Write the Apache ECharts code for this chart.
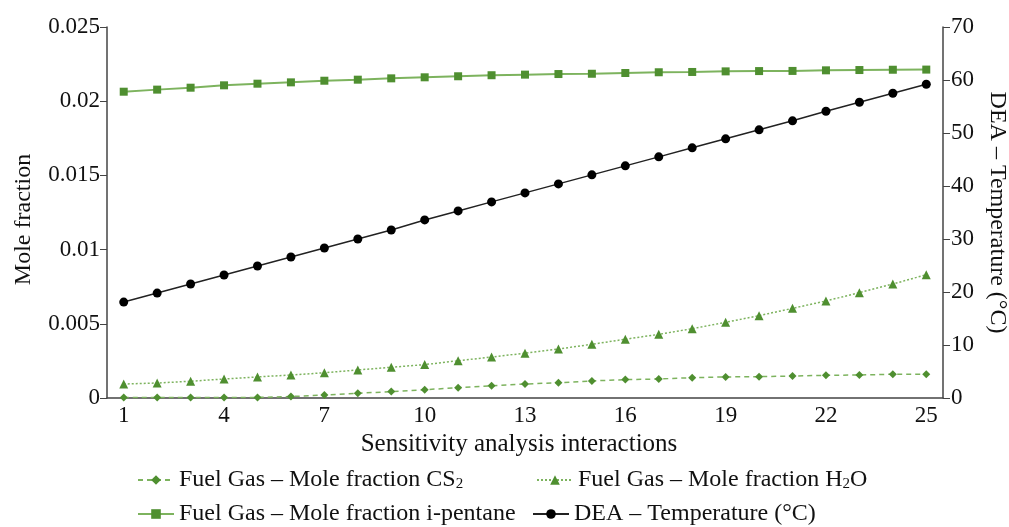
<!DOCTYPE html>
<html><head><meta charset="utf-8">
<script src="https://cdn.jsdelivr.net/npm/echarts@6/dist/echarts.min.js"></script>
<style>html,body{margin:0;padding:0;background:#fff}#c{width:1009px;height:527px}</style>
</head><body><div id="c"></div>
<script>
const categories = ['1','2','3','4','5','6','7','8','9','10','11','12','13','14','15','16','17','18','19','20','21','22','23','24','25'];
const cs2 = [0.00003,0.00003,0.00003,0.00003,0.00004,0.0001,0.0002,0.00032,0.00043,0.00056,0.00069,0.00083,0.00094,0.00103,0.00115,0.00124,0.00128,0.00137,0.00142,0.00144,0.00148,0.00153,0.00155,0.0016,0.0016];
const h2o = [0.00094,0.00101,0.00113,0.00128,0.00142,0.00155,0.0017,0.00189,0.00207,0.00225,0.00251,0.00276,0.00302,0.0033,0.00362,0.00396,0.00429,0.00467,0.0051,0.00555,0.00604,0.00654,0.0071,0.00768,0.00831];
const ipentane = [0.02064,0.02078,0.02091,0.02107,0.02118,0.02127,0.02138,0.02145,0.02154,0.02161,0.02168,0.02175,0.02179,0.02183,0.02185,0.0219,0.02195,0.02197,0.02201,0.02203,0.02204,0.02208,0.0221,0.02212,0.02213];
const deaTemp = [18.1,19.8,21.5,23.2,24.9,26.6,28.3,30.0,31.7,33.6,35.3,37.0,38.7,40.4,42.1,43.8,45.5,47.2,48.9,50.6,52.3,54.1,55.8,57.5,59.2];
const leftTicks = {min:0, max:0.025, interval:0.005};
const rightTicks = {min:0, max:70, interval:10};
const names = ['Fuel Gas – Mole fraction CS2','Fuel Gas – Mole fraction H2O','Fuel Gas – Mole fraction i-pentane','DEA – Temperature (°C)'];

const font = 'Liberation Serif';
const green = '#4f8f30';
const greenLine = '#7db35e';
const axisColor = '#444';

function legendFmt(n){
  if (n.endsWith('CS2')) return '{a|' + n.slice(0,-1) + '}{s|2}';
  if (n.endsWith('H2O')) return '{a|' + n.slice(0,-2) + '}{s|2}{a|O}';
  return '{a|' + n + '}';
}
const legendText = {color:'#111', fontFamily:font, fontSize:24,
  rich:{a:{fontFamily:font,fontSize:24,color:'#111'}, s:{fontFamily:font,fontSize:15,color:'#111',verticalAlign:'bottom',padding:[7,0,0,0]}}};
function lg(name, left, top){
  return {data:[name], left:left, top:top, itemWidth:36, itemHeight:12, itemGap:4, formatter:legendFmt, textStyle:legendText, padding:0};
}

const chart = echarts.init(document.getElementById('c'));
chart.setOption({
  animation:false,
  grid:{left:107, right:66, top:27, bottom:129, containLabel:false, outerBoundsMode:'none'},
  legend:[lg(names[0],137,468), lg(names[1],536,468), lg(names[2],137,502), lg(names[3],532,502)],
  xAxis:{type:'category', data:categories, boundaryGap:true,
    name:'Sensitivity analysis interactions', nameLocation:'middle', nameGap:32,
    nameTextStyle:{fontFamily:font, fontSize:25, color:'#111', padding:[0,12,0,0]},
    axisLine:{lineStyle:{color:axisColor, width:1.5}},
    axisTick:{alignWithLabel:true, interval:2, length:6, lineStyle:{color:axisColor}},
    axisLabel:{interval:2, fontFamily:font, fontSize:23, color:'#111', margin:6},
    splitLine:{show:false}},
  yAxis:[
    {type:'value', min:leftTicks.min, max:leftTicks.max, interval:leftTicks.interval, position:'left',
     name:'Mole fraction', nameLocation:'middle', nameGap:71,
     nameTextStyle:{fontFamily:font, fontSize:24, color:'#111', padding:[0,0,0,-14]},
     axisLine:{show:true, lineStyle:{color:axisColor, width:1.5}},
     axisTick:{show:true, length:7, lineStyle:{color:axisColor}},
     axisLabel:{fontFamily:font, fontSize:23, color:'#111', margin:7},
     splitLine:{show:false}},
    {type:'value', min:rightTicks.min, max:rightTicks.max, interval:rightTicks.interval, position:'right',
     name:'DEA – Temperature (°C)', nameLocation:'middle', nameGap:42, nameRotate:-90,
     nameTextStyle:{fontFamily:font, fontSize:24, color:'#111'},
     axisLine:{show:true, lineStyle:{color:axisColor, width:1.5}},
     axisTick:{show:true, length:7, lineStyle:{color:axisColor}},
     axisLabel:{fontFamily:font, fontSize:23, color:'#111', margin:8},
     splitLine:{show:false}}
  ],
  series:[
    {name:names[0], type:'line', data:cs2, yAxisIndex:0, symbol:'diamond', symbolSize:8,
     itemStyle:{color:green}, lineStyle:{color:greenLine, width:1.5, type:[5,4]}},
    {name:names[1], type:'line', data:h2o, yAxisIndex:0, symbol:'triangle', symbolSize:9,
     itemStyle:{color:green}, lineStyle:{color:greenLine, width:1.5, type:[2,2]}},
    {name:names[2], type:'line', data:ipentane, yAxisIndex:0, symbol:'rect', symbolSize:8,
     itemStyle:{color:green}, lineStyle:{color:greenLine, width:2}},
    {name:names[3], type:'line', data:deaTemp, yAxisIndex:1, symbol:'circle', symbolSize:9,
     itemStyle:{color:'#000'}, lineStyle:{color:'#222', width:1.5}}
  ]
});
</script></body></html>
